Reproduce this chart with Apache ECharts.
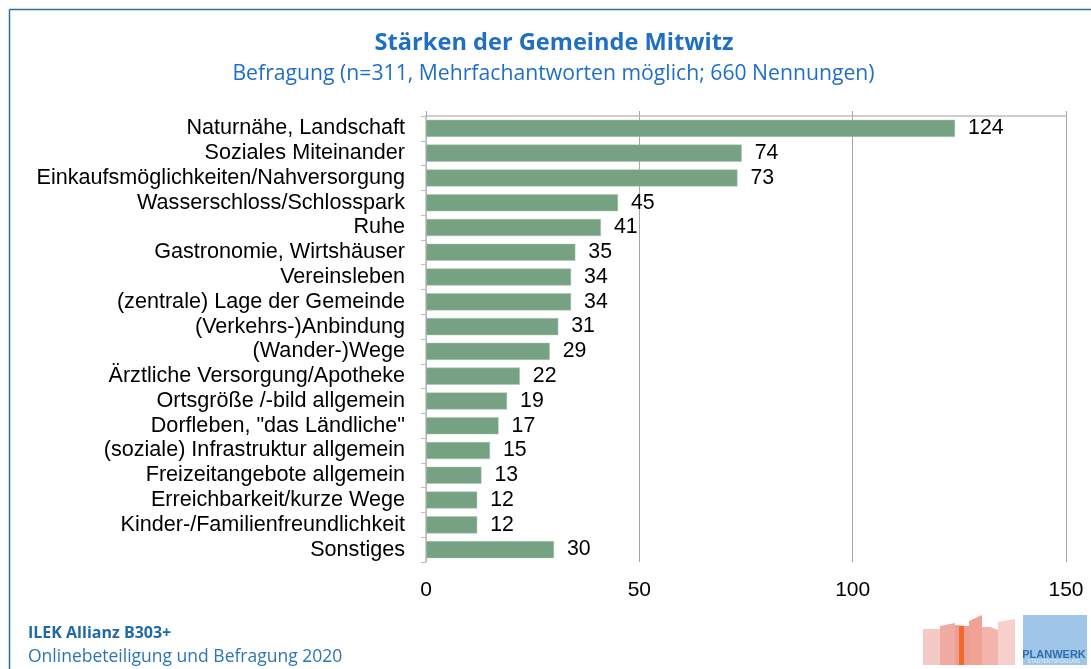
<!DOCTYPE html>
<html>
<head>
<meta charset="utf-8">
<script src="https://cdn.jsdelivr.net/npm/echarts@6/dist/echarts.min.js"></script>
<style>
html,body{margin:0;padding:0;background:#fff;}
#chart{width:1091px;height:669px;}
</style>
</head>
<body>
<div id="chart"></div>
<script>
const categories = [
  "Naturnähe, Landschaft",
  "Soziales Miteinander",
  "Einkaufsmöglichkeiten/Nahversorgung",
  "Wasserschloss/Schlosspark",
  "Ruhe",
  "Gastronomie, Wirtshäuser",
  "Vereinsleben",
  "(zentrale) Lage der Gemeinde",
  "(Verkehrs-)Anbindung",
  "(Wander-)Wege",
  "Ärztliche Versorgung/Apotheke",
  "Ortsgröße /-bild allgemein",
  "Dorfleben, \"das Ländliche\"",
  "(soziale) Infrastruktur allgemein",
  "Freizeitangebote allgemein",
  "Erreichbarkeit/kurze Wege",
  "Kinder-/Familienfreundlichkeit",
  "Sonstiges"
];
const values = [124, 74, 73, 45, 41, 35, 34, 34, 31, 29, 22, 19, 17, 15, 13, 12, 12, 30];
const axisMin = 0, axisMax = 150, axisStep = 50;
const titleText = "Stärken der Gemeinde Mitwitz";
const subtitleText = "Befragung (n=311, Mehrfachantworten möglich; 660 Nennungen)";
const footerLine1 = "ILEK Allianz B303+";
const footerLine2 = "Onlinebeteiligung und Befragung 2020";
const logoText = "PLANWERK";
const logoSubText = "STADTENTWICKLUNG";

const chart = echarts.init(document.getElementById('chart'), null, {renderer: 'canvas'});
const labelFont = '"Liberation Sans", Arial, sans-serif';
const titleFont = '"Open Sans", Lato, sans-serif';

function poly(points, fill) {
  return {type: 'polygon', shape: {points: points}, style: {fill: fill}, silent: true};
}

const option = {
  backgroundColor: '#ffffff',
  animation: false,
  grid: {left: 426, right: 25, top: 116, bottom: 107, containLabel: false},
  xAxis: [{
    type: 'value', min: axisMin, max: axisMax, interval: axisStep, position: 'bottom',
    axisLine: {show: false}, axisTick: {show: false},
    axisLabel: {fontFamily: labelFont, fontSize: 21, color: '#000', margin: 18},
    splitLine: {show: true, lineStyle: {color: '#a6a6a6', width: 1}}
  }, {
    type: 'value', min: axisMin, max: axisMax, interval: axisStep, position: 'top',
    axisLine: {show: true, lineStyle: {color: '#bfbfbf', width: 1.5}},
    axisTick: {show: true, length: 5, inside: false, lineStyle: {color: '#a6a6a6'}},
    axisLabel: {show: false}, splitLine: {show: false}
  }],
  yAxis: {
    type: 'category', data: categories, inverse: true,
    axisLine: {show: true, lineStyle: {color: '#bfbfbf', width: 1.5}},
    axisTick: {show: true, length: 5, lineStyle: {color: '#bfbfbf'}},
    axisLabel: {interval: 0, fontFamily: labelFont, fontSize: 21.6, color: '#000', margin: 21},
    splitLine: {show: false}
  },
  series: [{
    type: 'bar', data: values, barCategoryGap: '31%', xAxisIndex: 0,
    itemStyle: {color: '#76a283', borderColor: '#a9c6ae', borderWidth: 0.5},
    label: {show: true, position: 'right', distance: 13, fontFamily: labelFont, fontSize: 21.3, color: '#000'}
  }],
  graphic: [
    {type: 'line', shape: {x1: 9.5, y1: 9.5, x2: 1091, y2: 9.5}, style: {stroke: '#2a6ea6', lineWidth: 1.5}, silent: true},
    {type: 'line', shape: {x1: 9.5, y1: 9.5, x2: 9.5, y2: 669}, style: {stroke: '#2a6ea6', lineWidth: 1.5}, silent: true},
    {type: 'text', x: 554, y: 43, style: {text: titleText, font: 'bold 23.6px ' + titleFont, fill: '#1f6fc5', textAlign: 'center', textVerticalAlign: 'middle'}},
    {type: 'text', x: 553.5, y: 74, style: {text: subtitleText, font: '21.2px ' + titleFont, fill: '#1f6fc5', textAlign: 'center', textVerticalAlign: 'middle'}},
    {type: 'text', x: 28, y: 633, style: {text: footerLine1, font: 'bold 16px ' + titleFont, fill: '#1f6aa5', textAlign: 'left', textVerticalAlign: 'middle'}},
    {type: 'text', x: 28, y: 657, style: {text: footerLine2, font: '17.5px ' + titleFont, fill: '#2e75b6', textAlign: 'left', textVerticalAlign: 'middle'}},
    poly([[923,629],[940,629],[940,665],[923,665]], '#f5c9c5'),
    poly([[940,626],[955,623],[955,665],[940,665]], '#efaaa2'),
    poly([[955,625],[969,626],[969,665],[955,665]], '#ee9e93'),
    poly([[959,626],[964,626],[964,665],[959,665]], '#f26a2a'),
    poly([[969,621],[982,615],[982,665],[969,665]], '#f0a294'),
    poly([[982,627],[990,627],[998,630],[998,665],[982,665]], '#f3b5ab'),
    poly([[998,622],[1015,619],[1015,665],[998,665]], '#f7d0cb'),
    {type: 'rect', shape: {x: 1023, y: 615, width: 64, height: 50}, style: {fill: '#9fc5e8'}, silent: true},
    {type: 'text', x: 1054, y: 655, style: {text: logoText, font: 'bold 11px "Liberation Sans", Arial, sans-serif', fill: '#2f6fae', textAlign: 'center', textVerticalAlign: 'middle'}},
    {type: 'text', x: 1054, y: 662, style: {text: logoSubText, font: '5px "Liberation Sans", Arial, sans-serif', fill: '#e8f1fa', textAlign: 'center', textVerticalAlign: 'middle'}}
  ]
};
chart.setOption(option);
</script>
</body>
</html>
